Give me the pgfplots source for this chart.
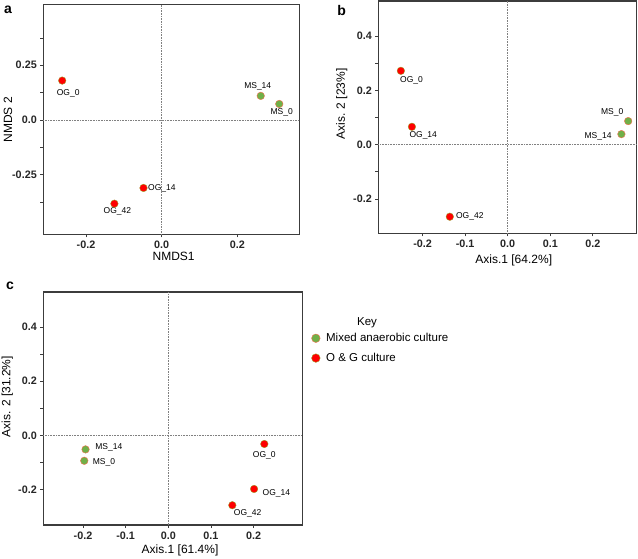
\documentclass[border=0pt]{standalone}
\usepackage{pgfplots}
\pgfplotsset{compat=1.18}
\usepackage{fontspec}
\setmainfont{Liberation Sans}
\definecolor{msgreen}{RGB}{112,176,72}
\definecolor{msedge}{RGB}{245,110,80}
\definecolor{ogred}{RGB}{255,0,0}
\definecolor{ogedge}{RGB}{150,165,40}
\definecolor{axgray}{RGB}{60,60,60}
\newcommand{\pl}{\fontsize{8.5}{10}\selectfont}
\tikzset{zl/.style={gray, densely dotted, line width=0.6pt}}
\pgfplotsset{
  pcoa/.style={
    scale only axis, anchor=south west,
    axis line style={axgray, line width=1.3pt},
    tick style={axgray, line width=0.8pt},
    tick align=outside, tick pos=left,
    major tick length=3pt, minor tick length=3pt,
    ticklabel style={font=\fontsize{10.8}{13}\selectfont\bfseries, text=black!85},
    label style={font=\fontsize{12}{14}\selectfont},
    clip=false,
  },
  ms/.style={only marks, mark=*, mark size=3.8pt, mark options={fill=msgreen, draw=msedge, line width=0.4pt}},
  og/.style={only marks, mark=*, mark size=3.8pt, mark options={fill=ogred, draw=ogedge, line width=0.35pt}},
}
\begin{document}
\begin{tikzpicture}[x=1pt,y=1pt]
\useasboundingbox (0,0) rectangle (638,558);

% ---------- panel a ----------
\begin{axis}[pcoa,
  at={(43.3pt,323.7pt)}, width=256pt, height=229.6pt,
  xmin=-0.313, xmax=0.364, ymin=-0.523, ymax=0.527,
  xtick={-0.2,0,0.2}, xticklabels={-0.2,0.0,0.2},
  ytick={-0.25,0,0.25}, yticklabels={-0.25,0.0,0.25},
  minor ytick={-0.375,-0.125,0.125,0.375},
  xlabel={NMDS1}, ylabel={NMDS 2},
  xlabel style={at={(rel axis cs:0.509,-0.0976)}, anchor=center},
  ylabel style={at={(rel axis cs:-0.138,0.498)}, anchor=center},
]
\draw[zl] (axis cs:0,-0.523) -- (axis cs:0,0.527);
\draw[zl] (axis cs:-0.313,0) -- (axis cs:0.364,0);
\addplot[og] coordinates {(-0.263,0.180) (-0.048,-0.311) (-0.125,-0.383)};
\addplot[ms] coordinates {(0.311,0.073) (0.262,0.110)};
\node[font=\pl, xshift=6pt, yshift=-13pt] at (axis cs:-0.263,0.180) {OG\_0};
\node[font=\pl, xshift=18.4pt] at (axis cs:-0.048,-0.311) {OG\_14};
\node[font=\pl, xshift=3pt, yshift=-7.3pt] at (axis cs:-0.125,-0.383) {OG\_42};
\node[font=\pl, xshift=2.4pt, yshift=-8pt] at (axis cs:0.311,0.073) {MS\_0};
\node[font=\pl, xshift=-3pt, yshift=9.3pt] at (axis cs:0.262,0.110) {MS\_14};
\end{axis}

% ---------- panel b ----------
\begin{axis}[pcoa,
  at={(378.3pt,324.7pt)}, width=258pt, height=232.3pt,
  xmin=-0.304, xmax=0.302, ymin=-0.326, ymax=0.529,
  xtick={-0.2,-0.1,0,0.1,0.2}, xticklabels={-0.2,-0.1,0.0,0.1,0.2},
  ytick={-0.2,0,0.2,0.4}, yticklabels={-0.2,0.0,0.2,0.4},
  minor ytick={-0.1,0.1,0.3},
  xlabel={Axis.1 [64.2\%]}, ylabel={Axis. 2 [23\%]},
  xlabel style={at={(rel axis cs:0.525,-0.115)}, anchor=center},
  ylabel style={at={(rel axis cs:-0.142,0.557)}, anchor=center},
]
\draw[zl] (axis cs:0,-0.326) -- (axis cs:0,0.529);
\draw[zl] (axis cs:-0.304,0) -- (axis cs:0.302,0);
\addplot[og] coordinates {(-0.251,0.272) (-0.225,0.066) (-0.136,-0.265)};
\addplot[ms] coordinates {(0.283,0.087) (0.267,0.039)};
\node[font=\pl, xshift=10.7pt, yshift=-9.3pt] at (axis cs:-0.251,0.272) {OG\_0};
\node[font=\pl, xshift=11.3pt, yshift=-9pt] at (axis cs:-0.225,0.066) {OG\_14};
\node[font=\pl, xshift=20pt, yshift=0.7pt] at (axis cs:-0.136,-0.265) {OG\_42};
\node[font=\pl, xshift=-16pt, yshift=8.3pt] at (axis cs:0.283,0.087) {MS\_0};
\node[font=\pl, xshift=-23.3pt, yshift=-2.7pt] at (axis cs:0.267,0.039) {MS\_14};
\end{axis}

% ---------- panel c ----------
\begin{axis}[pcoa,
  at={(43.3pt,33pt)}, width=259pt, height=233pt,
  xmin=-0.293, xmax=0.314, ymin=-0.331, ymax=0.529,
  xtick={-0.2,-0.1,0,0.1,0.2}, xticklabels={-0.2,-0.1,0.0,0.1,0.2},
  ytick={-0.2,0,0.2,0.4}, yticklabels={-0.2,0.0,0.2,0.4},
  minor ytick={-0.1,0.1,0.3},
  xlabel={Axis.1 [61.4\%]}, ylabel={Axis. 2 [31.2\%]},
  xlabel style={at={(rel axis cs:0.528,-0.107)}, anchor=center},
  ylabel style={at={(rel axis cs:-0.139,0.551)}, anchor=center},
  legend style={at={(rel axis cs:1.035,0.832)}, anchor=north west, draw=none, fill=none,
    font=\fontsize{11.5}{13}\selectfont, row sep=6pt, column sep=4pt, inner sep=0pt},
  legend cell align=left,
  legend image code/.code={\draw[#1, mark size=4.3pt] plot coordinates {(0pt,0pt)};},
]
\draw[zl] (axis cs:0,-0.331) -- (axis cs:0,0.529);
\draw[zl] (axis cs:-0.293,0) -- (axis cs:0.314,0);
\addplot[ms] coordinates {(-0.197,-0.094) (-0.194,-0.052)};
\addlegendentry{Mixed anaerobic culture}
\addplot[og] coordinates {(0.225,-0.032) (0.201,-0.198) (0.150,-0.258)};
\addlegendentry{O \& G culture}
\node[font=\pl, xshift=19.7pt, yshift=-1.7pt] at (axis cs:-0.197,-0.094) {MS\_0};
\node[font=\pl, xshift=23.3pt, yshift=2pt] at (axis cs:-0.194,-0.052) {MS\_14};
\node[font=\pl, yshift=-11.7pt] at (axis cs:0.225,-0.032) {OG\_0};
\node[font=\pl, xshift=22.3pt, yshift=-4.3pt] at (axis cs:0.201,-0.198) {OG\_14};
\node[font=\pl, xshift=15.3pt, yshift=-8pt] at (axis cs:0.150,-0.258) {OG\_42};
\node[font=\fontsize{11.5}{13}\selectfont] at (rel axis cs:1.25,0.867) {Key};
\end{axis}

% panel letters
\node[font=\fontsize{14}{16}\selectfont\bfseries] at (8,548) {a};
\node[font=\fontsize{14}{16}\selectfont\bfseries] at (341.7,548) {b};
\node[font=\fontsize{14}{16}\selectfont\bfseries] at (10,272) {c};
\end{tikzpicture}
\end{document}
